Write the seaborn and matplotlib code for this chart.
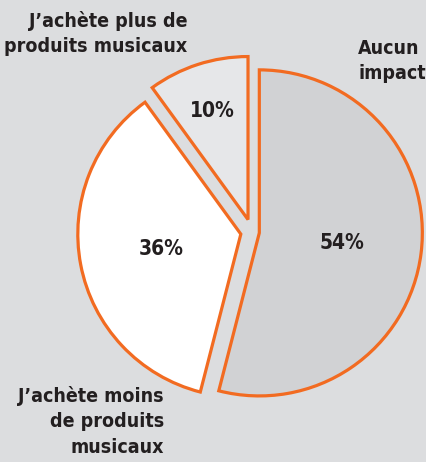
import numpy as np
import seaborn as sns
import matplotlib.pyplot as plt

# data, clockwise from 12 o'clock
labels = ["Aucun\nimpact",
          "J\u2019achète moins\nde produits\nmusicaux",
          "J\u2019achète plus de\nproduits musicaux"]
shares = [54, 36, 10]
pct_text = ["54%", "36%", "10%"]

bg = "#dcdddf"
fills = ["#d1d2d4", "#ffffff", "#e6e7e9"]
edge = "#f26b21"

sns.set_theme(style="white")
plt.rcParams["font.family"] = ["DejaVu Sans"]

fig = plt.figure(figsize=(4.26, 4.62), dpi=100, facecolor=bg)
ax = fig.add_axes([0, 0, 1, 1])
ax.set_facecolor(bg)

wedges, _ = ax.pie(shares, startangle=90, counterclock=False,
                   colors=fills, explode=[0.045, 0.07, 0.08],
                   wedgeprops=dict(edgecolor=edge, linewidth=2.3,
                                   joinstyle="miter"))

# percentage labels inside each slice
pct_dist = [0.51, 0.5, 0.7]
for w, txt, d in zip(wedges, pct_text, pct_dist):
    mid = np.deg2rad((w.theta1 + w.theta2) / 2)
    cx, cy = w.center
    ax.text(cx + d * np.cos(mid), cy + d * np.sin(mid), txt,
            ha="center", va="center", fontsize=15, fontweight="bold",
            fontstretch="condensed", color="#231f20")

ax.set_xlim(-1.546, 1.067)
ax.set_ylim(-1.411, 1.423)
ax.axis("off")

W, H = 426, 462
lab_kw = dict(fontsize=14, fontweight="bold", color="#231f20",
              fontstretch="condensed", linespacing=1.42)
fig.text(358 / W, 1 - 39 / H, labels[0], ha="left", va="top", **lab_kw)
fig.text(187 / W, 1 - 11 / H, labels[2], ha="right", va="top",
         multialignment="right", **lab_kw)
fig.text(164 / W, 1 - 386 / H, labels[1], ha="right", va="top",
         multialignment="right", **lab_kw)

fig.savefig("out.png", dpi=100, facecolor=bg)
